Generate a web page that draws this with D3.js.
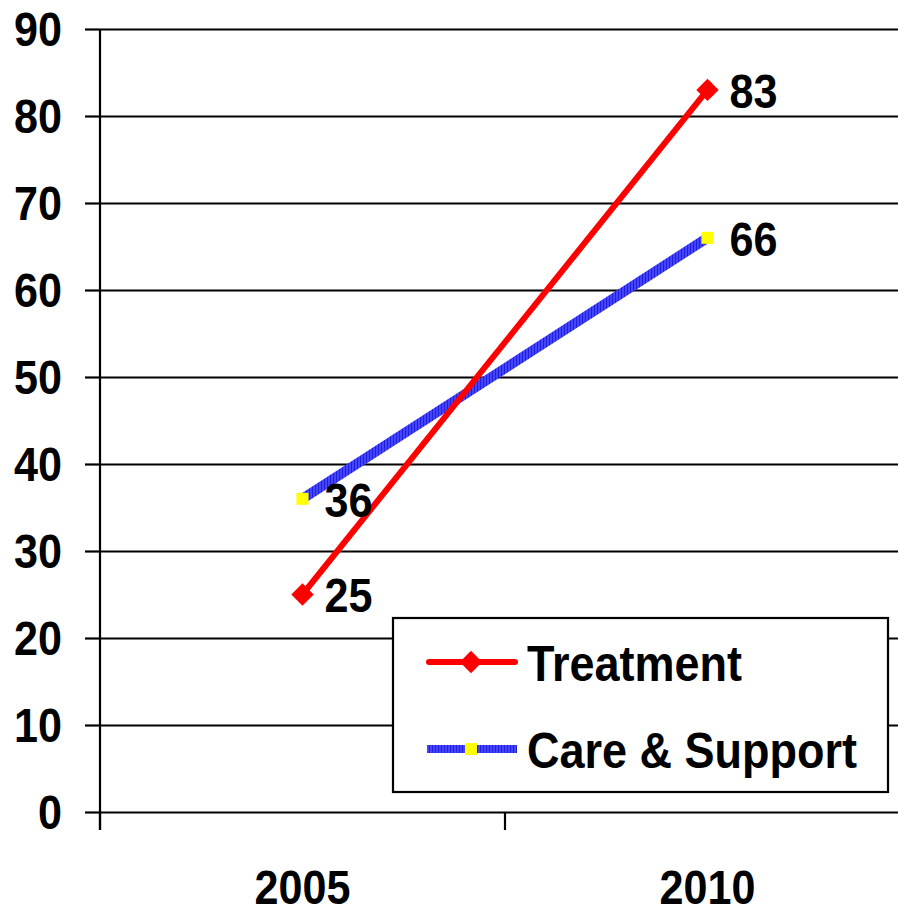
<!DOCTYPE html>
<html>
<head>
<meta charset="utf-8">
<script src="https://cdn.jsdelivr.net/npm/d3@7"></script>
<style>
  body { margin: 0; background: #fff; }
  text { font-family: "Liberation Sans", Arial, sans-serif; font-weight: bold; fill: #000; }
</style>
</head>
<body>
<div id="chart"></div>
<script>
// data
const years = ["2005", "2010"];
const treatment = [25, 83];
const careSupport = [36, 66];
const yTicks = [0, 10, 20, 30, 40, 50, 60, 70, 80, 90];
const seriesNames = ["Treatment", "Care & Support"];

const W = 898, H = 916;
const plotLeft = 100, plotTop = 29, plotBottom = 812;

const svg = d3.select("#chart").append("svg")
    .attr("width", W)
    .attr("height", H);

const defs = svg.append("defs");
const stripes = defs.append("pattern")
    .attr("id", "blueStripes")
    .attr("patternUnits", "userSpaceOnUse")
    .attr("width", 3)
    .attr("height", 3);
stripes.append("rect").attr("width", 3).attr("height", 3).attr("fill", "#4444ff");
stripes.append("rect").attr("width", 1).attr("height", 3).attr("fill", "#2020d8");

const x = d3.scaleBand()
    .domain(years)
    .range([plotLeft, 910])
    .padding(0);

const y = d3.scaleLinear()
    .domain([0, 90])
    .range([plotBottom, plotTop]);

// text in the picture is narrow, so squeeze it around its anchor
let putText = (sel, px, py, sq = 0.88) => sel
    .attr("x", 0).attr("y", 0)
    .attr("transform", `translate(${px},${py}) scale(${sq},1)`);

// gridlines
svg.append("g")
    .attr("transform", `translate(${plotLeft},0)`)
    .call(d3.axisLeft(y).tickValues(yTicks).tickSize(-(W - plotLeft)).tickFormat(""))
    .call(g => g.select(".domain").remove())
    .selectAll("line")
    .attr("stroke", "#000")
    .attr("stroke-width", 2.2);

// y axis
const yAxis = svg.append("g")
    .attr("transform", `translate(${plotLeft},0)`)
    .call(d3.axisLeft(y).tickValues(yTicks).tickSize(15).tickFormat(""));
yAxis.select(".domain").remove();
yAxis.selectAll("line").attr("stroke", "#000").attr("stroke-width", 2.2);

svg.append("line")
    .attr("x1", plotLeft).attr("x2", plotLeft)
    .attr("y1", plotTop).attr("y2", 830)
    .attr("stroke", "#000")
    .attr("stroke-width", 2.2);

svg.selectAll(".ylab")
    .data(yTicks)
    .enter()
    .append("text")
    .attr("class", "ylab")
    .attr("text-anchor", "end")
    .attr("dominant-baseline", "central")
    .style("font-size", "49px")
    .each(function (d) { putText(d3.select(this), 62, y(d)); })
    .text(d => d);

// x ticks at band edges
const edges = years.map(d => x(d)).concat([x.range()[1]]);
svg.selectAll(".xtick")
    .data(edges)
    .enter()
    .append("line")
    .attr("x1", d => d).attr("x2", d => d)
    .attr("y1", plotBottom).attr("y2", 830)
    .attr("stroke", "#000")
    .attr("stroke-width", 2.2);

svg.selectAll(".xlab")
    .data(years)
    .enter()
    .append("text")
    .attr("class", "xlab")
    .attr("text-anchor", "middle")
    .style("font-size", "49px")
    .each(function (d) { putText(d3.select(this), x(d) + x.bandwidth() / 2, 904); })
    .text(d => d);

const cx = d => x(d) + x.bandwidth() / 2;

const line = d3.line()
    .x(d => cx(d.year))
    .y(d => y(d.value));

const treatData = years.map((yr, i) => ({ year: yr, value: treatment[i] }));
const careData = years.map((yr, i) => ({ year: yr, value: careSupport[i] }));

// Care & Support
svg.append("path")
    .datum(careData)
    .attr("d", line)
    .attr("fill", "none")
    .attr("stroke", "url(#blueStripes)")
    .attr("stroke-width", 10);

// Treatment
svg.append("path")
    .datum(treatData)
    .attr("d", line)
    .attr("fill", "none")
    .attr("stroke", "#ff0000")
    .attr("stroke-width", 6);

const diamond = d3.symbol().type(d3.symbolSquare).size(250);

svg.selectAll(".careMark")
    .data(careData)
    .enter()
    .append("rect")
    .attr("x", d => cx(d.year) - 6)
    .attr("y", d => y(d.value) - 6)
    .attr("width", 12)
    .attr("height", 12)
    .attr("fill", "#ffff00");

svg.selectAll(".treatMark")
    .data(treatData)
    .enter()
    .append("path")
    .attr("d", diamond)
    .attr("transform", d => `translate(${cx(d.year)},${y(d.value)}) rotate(45)`)
    .attr("fill", "#ff0000");

// value labels
svg.selectAll(".vlab")
    .data(treatData.concat(careData))
    .enter()
    .append("text")
    .attr("class", "vlab")
    .attr("dominant-baseline", "central")
    .style("font-size", "49px")
    .each(function (d) { putText(d3.select(this), cx(d.year) + 22, y(d.value) + 1); })
    .text(d => d.value);

// legend
const legend = svg.append("g");
legend.append("rect")
    .attr("x", 393).attr("y", 618)
    .attr("width", 495).attr("height", 174)
    .attr("fill", "#fff")
    .attr("stroke", "#000")
    .attr("stroke-width", 2.2);

const rowY = [662, 749];

legend.append("line")
    .attr("x1", 429).attr("x2", 515)
    .attr("y1", rowY[0]).attr("y2", rowY[0])
    .attr("stroke", "#ff0000")
    .attr("stroke-width", 6)
    .attr("stroke-linecap", "round");
legend.append("path")
    .attr("d", diamond)
    .attr("transform", `translate(471,${rowY[0]}) rotate(45)`)
    .attr("fill", "#ff0000");

legend.append("rect")
    .attr("x", 427).attr("y", rowY[1] - 4)
    .attr("width", 90).attr("height", 8)
    .attr("fill", "url(#blueStripes)");
legend.append("rect")
    .attr("x", 465).attr("y", rowY[1] - 6)
    .attr("width", 12).attr("height", 12)
    .attr("fill", "#ffff00");

legend.selectAll(".ltext")
    .data(seriesNames)
    .enter()
    .append("text")
    .attr("class", "ltext")
    .attr("dominant-baseline", "central")
    .style("font-size", "50px")
    .each(function (d, i) { putText(d3.select(this), 527, rowY[i] + 2, 0.9); })
    .text(d => d);
</script>
</body>
</html>
